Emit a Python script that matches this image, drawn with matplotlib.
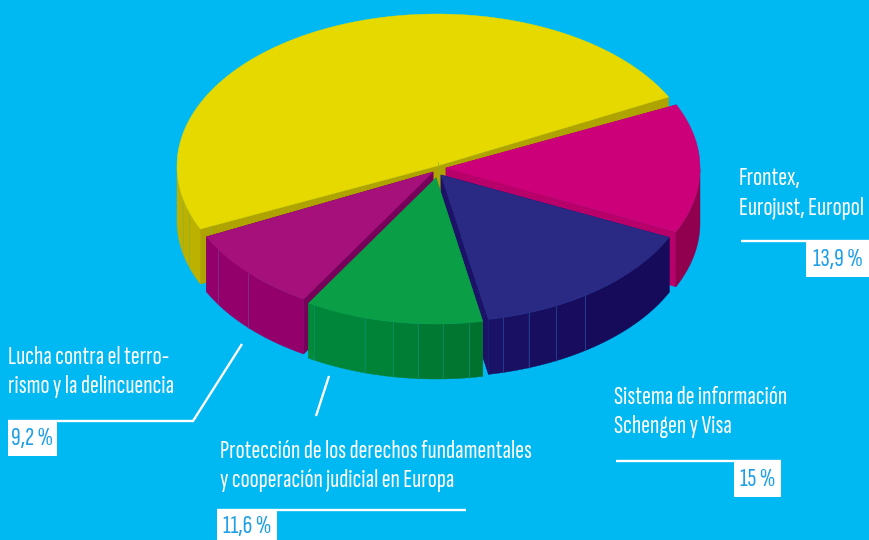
import numpy as np
import matplotlib
matplotlib.use("Agg")
import matplotlib.pyplot as plt

# Datos del reparto (%), el amarillo no lleva rotulo y se lee del dibujo
labels = ["Resto", "Frontex, Eurojust, Europol", "Sistema de información Schengen y Visa",
          "Protección de los derechos fundamentales", "Lucha contra el terrorismo"]
values = [49.3, 13.9, 15.0, 11.6, 9.2]

# Aspecto de cada porción
centers = [(437, 166), (446, 168), (441, 175), (436, 178), (433, 172)]
radii = [(260, 152), (254, 150), (252, 147), (248, 146), (252, 148)]
top_colors = ["#E6D900", "#CC0078", "#2A2A85", "#0A9F47", "#A6107A"]
cut_colors = ["#AEA300", "#B8006B", "#1C1268", "#008A3C", "#78005A"]
side_from = ["#BDB100", "#90004F", "#160A5A", "#00722E", "#93006C"]
side_to = ["#BDB100", "#90004F", "#1A1266", "#008A3C", "#93006C"]
seam_colors = ["#8FB030", "#90004F", "#2A4A9A", "#12906A", "#7A3A90"]
facet_x = [[183, 189], [], [503, 529, 556, 585], [314, 365, 393, 418, 443, 469], [218, 248]]
yellow_cut_seams = [211, 438]
depth = 55
yellow_start = 204.5  # yellow runs clockwise over the top, down to about 27 deg
others_start = 24.9  # the rest of the slices start just under it

bg = "#00B9F2"
pct_color = "#1E9FE8"
font = ["Sofia Sans Extra Condensed", "Liberation Sans", "DejaVu Sans"]
font_size = 19.3

fig = plt.figure(figsize=(8.69, 5.40), dpi=100, facecolor=bg)
ax = fig.add_axes([0, 0, 1, 1])
ax.set_xlim(0, 869)
ax.set_ylim(540, 0)
ax.axis("off")


def mix(c1, c2, t):
    a = np.array(matplotlib.colors.to_rgb(c1))
    b = np.array(matplotlib.colors.to_rgb(c2))
    return a + (b - a) * t


def pt(c, r, deg):
    rad = np.radians(deg)
    return c[0] + r[0] * np.cos(rad), c[1] - r[1] * np.sin(rad)


def draw_slice(i, a_from, a_to):
    # a_from > a_to, the slice goes clockwise
    c, r = centers[i], radii[i]
    angs = np.linspace(a_from, a_to, 160)
    xs, ys = pt(c, r, angs)

    # caras del corte
    for a in (a_from, a_to):
        px, py = pt(c, r, a)
        ax.fill([c[0], px, px, c[0]], [c[1], py, py + depth, c[1] + depth],
                color=cut_colors[i], lw=0.4)

    # pared exterior, solo la parte de delante (seno negativo)
    front = np.sin(np.radians(angs)) <= 0
    if front.any():
        fa = angs[front]
        fx = xs[front]
        cuts_a = [fa[np.argmin(np.abs(fx - xv))] for xv in facet_x[i]]
        edges = sorted([fa[0], fa[-1]] + cuts_a, reverse=True)
        for k in range(len(edges) - 1):
            seg = np.linspace(edges[k], edges[k + 1], 40)
            sx, sy = pt(c, r, seg)
            t = k / max(len(edges) - 2, 1)
            ax.fill(np.r_[sx, sx[::-1]], np.r_[sy, sy[::-1] + depth],
                    color=mix(side_from[i], side_to[i], t), lw=0.3)
        for a in cuts_a:
            sx, sy = pt(c, r, a)
            ax.plot([sx, sx], [sy, sy + depth], color=seam_colors[i], lw=0.5, zorder=1)

    ax.fill(np.r_[c[0], xs], np.r_[c[1], ys], color=top_colors[i], lw=0.3)


# Angulos de cada porcion a partir de los valores
spans = np.array(values) / 100 * 360
angles = [(yellow_start, yellow_start - spans[0])]
a = others_start
for s in spans[1:]:
    angles.append((a, a - s))
    a -= s

draw_slice(0, *angles[0])
# costuras en la cara cortada del amarillo
slope_x0, slope_y0 = pt(centers[0], radii[0], angles[0][0])
slope_x1, slope_y1 = pt(centers[0], radii[0], angles[0][1])
for xv in yellow_cut_seams:
    yv = slope_y0 + (xv - slope_x0) * (slope_y1 - slope_y0) / (slope_x1 - slope_x0)
    ax.plot([xv, xv], [yv, yv + depth], color=seam_colors[0], lw=0.5, zorder=1)

for i in [1, 2, 4, 3]:
    draw_slice(i, *angles[i])


def label(x, y, s):
    ax.text(x, y, s, color="white", family=font, fontsize=font_size, va="center", ha="left")


def pct_box(x0, x1, y0, y1, s):
    ax.fill([x0, x1, x1, x0], [y0, y0, y1, y1], color="white", lw=0)
    ax.text((x0 + x1) / 2, (y0 + y1) / 2 + 0.5, s, color=pct_color, family=font,
            fontsize=font_size, va="center", ha="center")


def rule(xs, ys):
    ax.plot(xs, ys, color="white", lw=1.7, solid_capstyle="butt", solid_joinstyle="miter")


label(739, 179, "Frontex,")
label(739, 208, "Eurojust, Europol")
rule([741, 869], [241, 241])
pct_box(806, 869, 241, 277, "13,9 %")

label(614, 398, "Sistema de información")
label(614, 427, "Schengen y Visa")
rule([616, 781], [461, 461])
pct_box(734, 781, 461, 497, "15 %")

label(8, 358, "Lucha contra el terro-")
label(8, 387, "rismo y la delincuencia")
rule([8, 193, 242], [421, 421, 344])
pct_box(8, 57, 421, 456, "9,2 %")

label(220, 452, "Protección de los derechos fundamentales")
label(220, 481, "y cooperación judicial en Europa")
rule([217, 466], [510, 510])
rule([329, 316], [376, 416])
pct_box(217, 277, 510, 541, "11,6 %")

fig.savefig("out.png", dpi=100, facecolor=bg)
